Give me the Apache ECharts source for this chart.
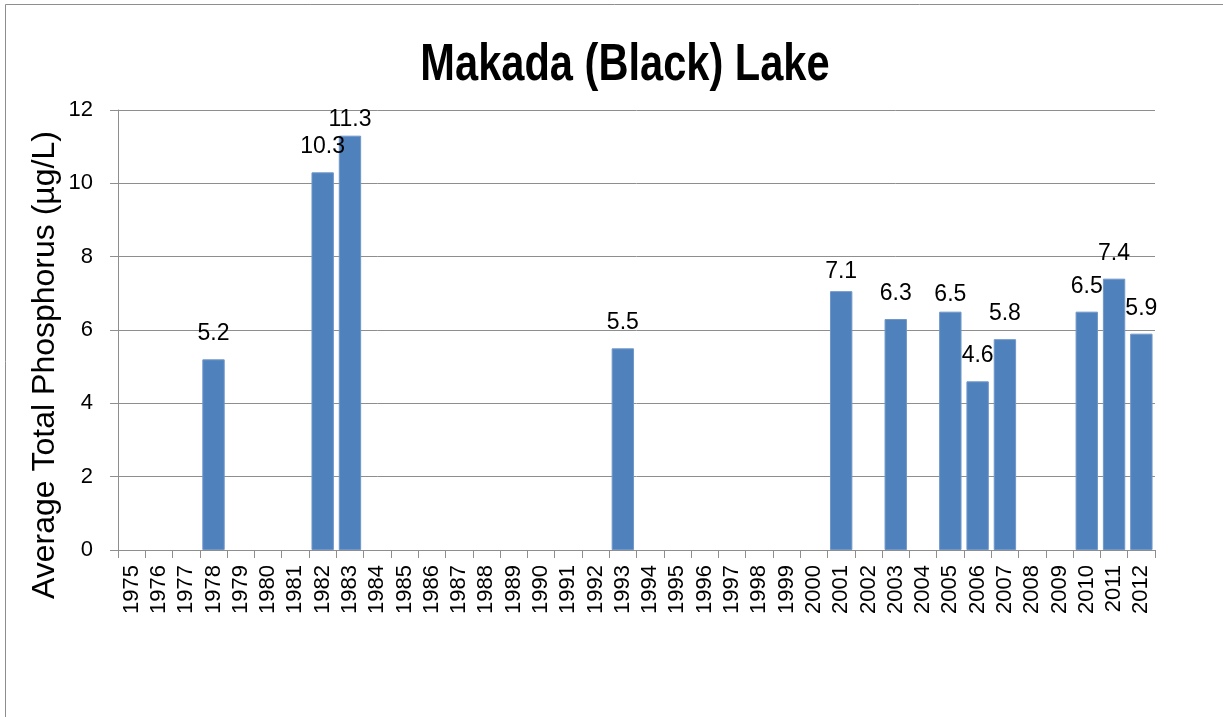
<!DOCTYPE html>
<html>
<head>
<meta charset="utf-8">
<script src="https://cdn.jsdelivr.net/npm/echarts@6/dist/echarts.min.js"></script>
<style>
  html, body { margin: 0; padding: 0; background: #fff; }
  #chart { width: 1223px; height: 717px; }
</style>
</head>
<body>
<div id="chart"></div>
<script>
// Makada (Black) Lake — average total phosphorus by year
const years = ['1975', '1976', '1977', '1978', '1979', '1980', '1981', '1982', '1983', '1984',
  '1985', '1986', '1987', '1988', '1989', '1990', '1991', '1992', '1993', '1994',
  '1995', '1996', '1997', '1998', '1999', '2000', '2001', '2002', '2003', '2004',
  '2005', '2006', '2007', '2008', '2009', '2010', '2011', '2012']
const sampledYears = ['1978', '1982', '1983', '1993', '2001', '2003', '2005', '2006', '2007', '2010', '2011', '2012']
const phosphorus = [5.2, 10.3, 11.3, 5.5, 7.06, 6.3, 6.5, 4.6, 5.75, 6.5, 7.4, 5.9]
const yTicks = [0, 2, 4, 6, 8, 10, 12]

const GRAY = '#8e8e8e'
const FONT = 'Liberation Sans, Arial, sans-serif'

// a few labels sit closer to their bar in the original
const labelDistance = { '1983': 5, '2001': 8, '2005': 6 }

const values = years.map(y => {
  const i = sampledYears.indexOf(y)
  if (i < 0) return null
  const item = { value: phosphorus[i] }
  if (labelDistance[y] != null) item.label = { distance: labelDistance[y] }
  return item
})

const chart = echarts.init(document.getElementById('chart'), null, { renderer: 'canvas' })
chart.setOption({
  animation: false,
  backgroundColor: '#fff',
  graphic: [
    {
      type: 'rect',
      shape: { x: 5.5, y: 4.5, width: 1400, height: 900 },
      style: { fill: 'none', stroke: GRAY, lineWidth: 1 },
      silent: true,
    },
    {
      // title, squeezed a little to get Calibri-like proportions
      type: 'text',
      x: 625,
      y: 66,
      scaleX: 0.8,
      style: {
        text: 'Makada (Black) Lake',
        font: 'bold 52px Liberation Sans, Arial, sans-serif',
        fill: '#000',
        align: 'center',
        verticalAlign: 'middle',
      },
      silent: true,
    },
    {
      type: 'text',
      x: 45,
      y: 365,
      rotation: Math.PI / 2,
      style: {
        text: 'Average Total Phosphorus (µg/L)',
        font: '32px Liberation Sans, Arial, sans-serif',
        fill: '#000',
        align: 'center',
        verticalAlign: 'middle',
      },
      silent: true,
    },
  ],
  grid: { left: 118, right: 68, top: 110, bottom: 167, containLabel: false },
  xAxis: {
    type: 'category',
    data: years,
    boundaryGap: true,
    axisLine: { lineStyle: { color: GRAY } },
    axisTick: { show: true, length: 8, lineStyle: { color: GRAY } },
    axisLabel: { rotate: 90, margin: 15, interval: 0, color: '#000', fontFamily: FONT, fontSize: 22 },
    splitLine: { show: false },
  },
  yAxis: {
    type: 'value',
    min: yTicks[0],
    max: yTicks[yTicks.length - 1],
    interval: yTicks[1] - yTicks[0],
    axisLine: { show: true, lineStyle: { color: GRAY } },
    axisTick: { show: true, length: 8, lineStyle: { color: GRAY } },
    axisLabel: { margin: 25, color: '#000', fontFamily: FONT, fontSize: 22 },
    splitLine: { show: true, lineStyle: { color: GRAY, width: 1 } },
  },
  series: [{
    type: 'bar',
    data: values,
    barCategoryGap: '18%',
    itemStyle: { color: '#4F81BD', borderColor: '#7097c8', borderWidth: 1 },
    label: {
      show: true,
      position: 'top',
      distance: 14,
      color: '#000',
      fontFamily: FONT,
      fontSize: 23,
      formatter: p => p.value.toFixed(1),
    },
  }],
})
</script>
</body>
</html>
